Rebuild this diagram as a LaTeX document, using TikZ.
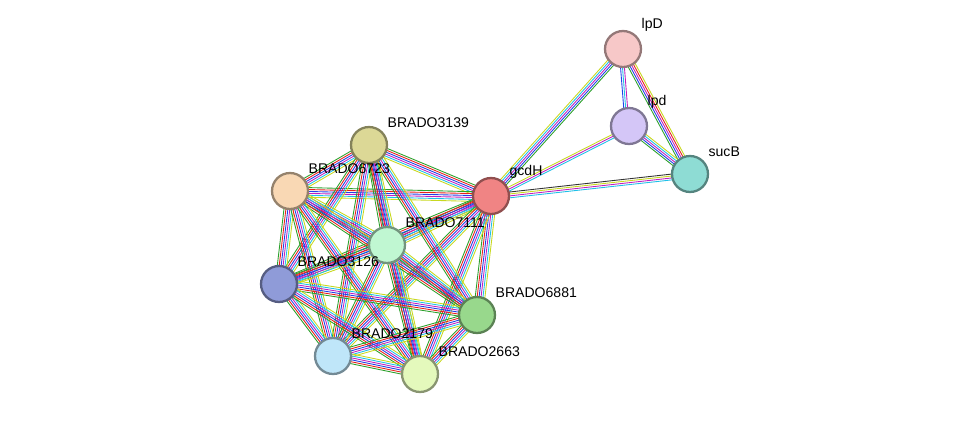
\documentclass[tikz,border=0pt]{standalone}
\usepackage{fontspec}
\setmainfont{Liberation Sans}
\usetikzlibrary{calc}
\definecolor{eNeigh}{HTML}{2CA02C}
\definecolor{eFus}{HTML}{E8211D}
\definecolor{eCooc}{HTML}{2040E8}
\definecolor{eExp}{HTML}{C020C0}
\definecolor{eDb}{HTML}{20C0E8}
\definecolor{eText}{HTML}{C8D820}
\definecolor{eCoex}{HTML}{333333}
\definecolor{eHom}{HTML}{9090F0}
\tikzset{
  prot/.style={circle, minimum size=0.72cm, line width=1.3pt, draw=#1!60!black, fill=#1},
  lbl/.style={font=\fontsize{8}{9}\selectfont, anchor=south west, inner sep=1pt}
}
% multi-coloured STRING edge: #1, #2 node names, #3 colour list
\newcommand\stredge[3]{%
  \foreach \c [count=\i] in {#3} {
    \pgfmathsetmacro\off{(\i-1)*1.1-2.2}
    \draw[\c, line width=0.5pt] ($(#1)!\off pt!90:(#2)$) -- ($(#2)!\off pt!-90:(#1)$);
  }}
\begin{document}
\begin{tikzpicture}[x=0.02cm, y=-0.02cm]
\useasboundingbox (0,0) rectangle (975,420);
\definecolor{cLpD}{HTML}{F7C8C8}
\definecolor{cLpd}{HTML}{D4C6F7}
\definecolor{cSuc}{HTML}{8EDCD4}
\definecolor{cGcd}{HTML}{F08484}
\definecolor{cB39}{HTML}{DCD896}
\definecolor{cB23}{HTML}{F9D8B4}
\definecolor{cB11}{HTML}{C0F7D2}
\definecolor{cB26}{HTML}{8F9BD8}
\definecolor{cB81}{HTML}{98D88C}
\definecolor{cB79}{HTML}{BFE6F9}
\definecolor{cB63}{HTML}{E4F9BC}
\coordinate (lpD) at (623,49);
\coordinate (lpd) at (629,126);
\coordinate (sucB) at (690,174);
\coordinate (gcdH) at (491,196);
\coordinate (b3139) at (369,145);
\coordinate (b6723) at (290,191);
\coordinate (b7111) at (387,245);
\coordinate (b3126) at (279,284);
\coordinate (b6881) at (477,315);
\coordinate (b2179) at (333,356);
\coordinate (b2663) at (420,374);
% edges
\stredge{gcdH}{lpD}{eNeigh,eCooc,eExp,eDb,eText}
\stredge{gcdH}{lpd}{eDb,eExp,eText}
\stredge{gcdH}{sucB}{eDb,eExp,eText,eCoex}
\stredge{lpD}{lpd}{eCooc,eDb,eExp}
\stredge{lpD}{sucB}{eNeigh,eCooc,eExp,eFus,eText}
\stredge{lpd}{sucB}{eNeigh,eCooc,eExp,eDb,eText}
\foreach \a/\b in {gcdH/b3139,gcdH/b6723,gcdH/b7111,gcdH/b3126,gcdH/b6881,gcdH/b2179,gcdH/b2663,
  b3139/b6723,b3139/b7111,b3139/b3126,b3139/b6881,b3139/b2179,b3139/b2663,
  b6723/b7111,b6723/b3126,b6723/b6881,b6723/b2179,b6723/b2663,
  b7111/b3126,b7111/b6881,b7111/b2179,b7111/b2663,
  b3126/b6881,b3126/b2179,b3126/b2663,b6881/b2179,b6881/b2663,b2179/b2663}
  {\stredge{\a}{\b}{eNeigh,eFus,eCooc,eExp,eDb,eText}}
% nodes
\foreach \n/\c/\t in {lpD/cLpD/lpD, lpd/cLpd/lpd, sucB/cSuc/sucB, gcdH/cGcd/gcdH,
  b3139/cB39/BRADO3139, b6723/cB23/BRADO6723, b7111/cB11/BRADO7111, b3126/cB26/BRADO3126,
  b6881/cB81/BRADO6881, b2179/cB79/BRADO2179, b2663/cB63/BRADO2663}
  {\node[prot=\c] (n\n) at (\n) {};
   \node[lbl] (l\n) at ($(n\n.north east)+(3,-2)$) {\t};}
\end{tikzpicture}
\end{document}
